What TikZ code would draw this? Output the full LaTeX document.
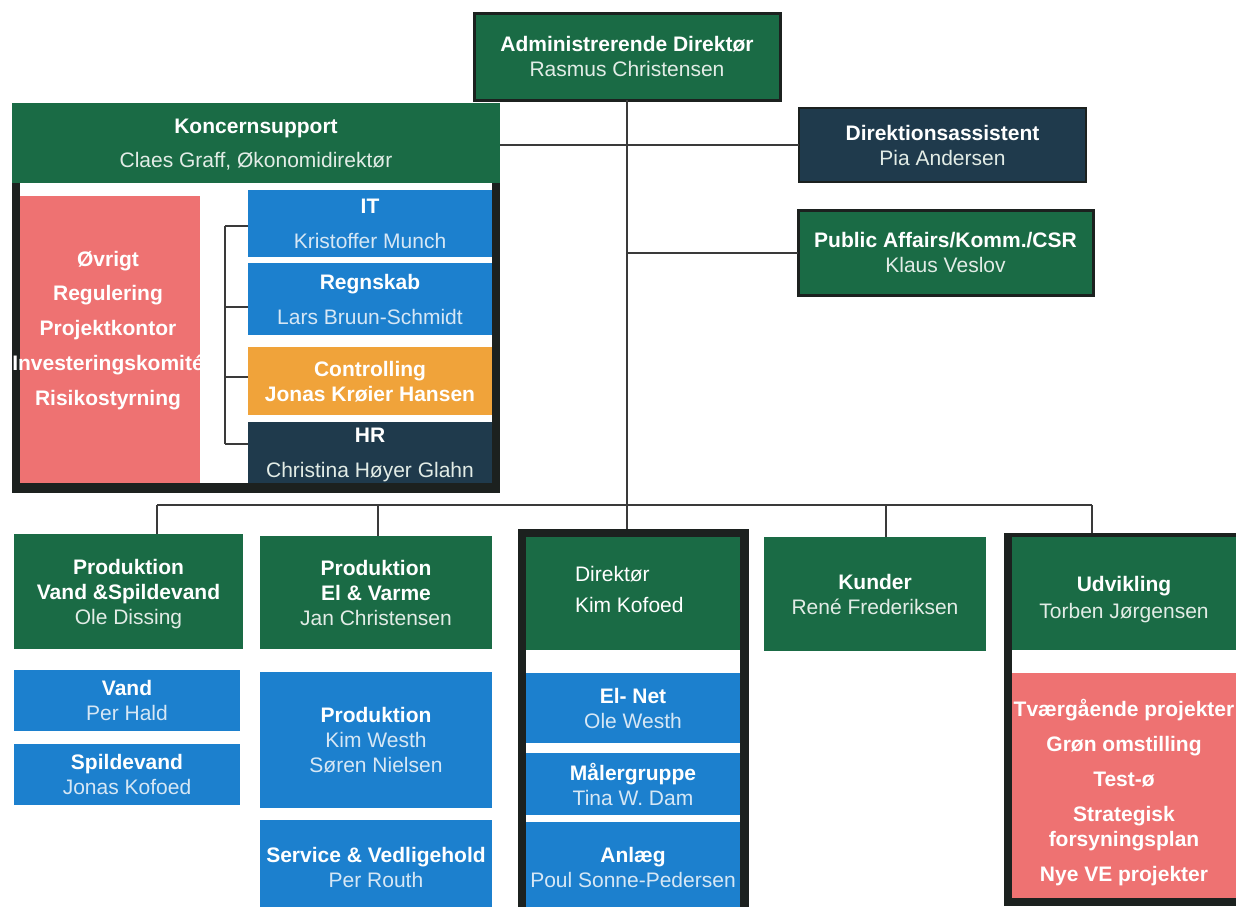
\documentclass[tikz,border=0pt]{standalone}
\usepackage{fontspec}
\setmainfont{Liberation Sans}
\definecolor{gr}{HTML}{1A6B45}
\definecolor{bl}{HTML}{1C80CE}
\definecolor{sa}{HTML}{EE7272}
\definecolor{og}{HTML}{F0A33A}
\definecolor{nv}{HTML}{1F3A4C}
\definecolor{fr}{HTML}{1C211F}
\definecolor{ln}{HTML}{3A3A3A}
\definecolor{nmb}{HTML}{D6E7F5}
\definecolor{nmg}{HTML}{E2ECE6}
\newcommand\nmg[1]{{\mdseries\color{nmg}#1}}
\newcommand\nmb[1]{{\mdseries\color{nmb}#1}}
\tikzset{
  bx/.style={rectangle, inner sep=0pt, outer sep=0pt, text=white, align=center,
    text depth=0pt, font=\bfseries\fontsize{21}{25}\selectfont},
  grbox/.style={bx, fill=gr},
  blbox/.style={bx, fill=bl},
  frame/.style={rectangle, inner sep=0pt, outer sep=0pt, fill=fr},
  wh/.style={rectangle, inner sep=0pt, outer sep=0pt, fill=white},
  conn/.style={draw=ln, line width=2pt},
}
\begin{document}
\begin{tikzpicture}[x=1pt,y=-1pt]
\useasboundingbox (0,0) rectangle (1236,906);
\clip (0,0) rectangle (1236,906);
\fill[white] (0,0) rectangle (1236,906);

% top
\node[grbox, draw=fr, line width=3pt, minimum width=306pt, minimum height=87pt] (admin) at (627,56.5)
  {Administrerende Direktør\\\nmg{Rasmus Christensen}};
\node[bx, fill=nv, draw=fr, line width=2pt, minimum width=287pt, minimum height=74pt] (dira) at (942.5,145)
  {Direktionsassistent\\\nmg{Pia Andersen}};
\node[grbox, draw=fr, line width=3pt, minimum width=295pt, minimum height=85pt] (pa) at (945.5,252.5)
  {Public Affairs/Komm./CSR\\\nmg{Klaus Veslov}};

% Koncernsupport
\node[frame, minimum width=488pt, minimum height=390pt] (ksframe) at (256,298) {};
\node[wh, minimum width=472pt, minimum height=300pt] (ksin) at (256,333) {};
\node[grbox, minimum width=488pt, minimum height=80pt] (kshead) at (256,143)
  {Koncernsupport\\[9pt]\nmg{Claes Graff, Økonomidirektør}};
\node[bx, fill=sa, minimum width=180pt, minimum height=287pt] (ov) at (110,339.5) {};
\node[bx, font=\bfseries\fontsize{21}{34.75}\selectfont] (ovtxt) at (108,328)
  {Øvrigt\\Regulering\\Projektkontor\\Investeringskomité\\Risikostyrning};
\node[blbox, minimum width=244pt, minimum height=67pt] (it) at (370,223.5)
  {IT\\[10pt]\nmb{Kristoffer Munch}};
\node[blbox, minimum width=244pt, minimum height=72pt] (rg) at (370,299)
  {Regnskab\\[10pt]\nmb{Lars Bruun-Schmidt}};
\node[bx, fill=og, minimum width=244pt, minimum height=68pt] (ct) at (370,381)
  {Controlling\\Jonas Krøier Hansen};
\node[bx, fill=nv, minimum width=244pt, minimum height=61pt] (hr) at (370,452.5)
  {HR\\[10pt]\nmg{Christina Høyer Glahn}};

\coordinate (k1) at (225,226);
\coordinate (k2) at (225,307);
\coordinate (k3) at (225,377);
\coordinate (k4) at (225,444);
\draw[conn] (k1) -- (k4);
\draw[conn] (k1) -- (k1 -| it.west);
\draw[conn] (k2) -- (k2 -| rg.west);
\draw[conn] (k3) -- (k3 -| ct.west);
\draw[conn] (k4) -- (k4 -| hr.west);

% bottom row
\node[grbox, minimum width=229pt, minimum height=115pt] (pv) at (128.5,591.5)
  {Produktion\\Vand \&Spildevand\\\nmg{Ole Dissing}};
\node[grbox, minimum width=232pt, minimum height=113pt] (pe) at (376,592.5)
  {Produktion\\El \& Varme\\\nmg{Jan Christensen}};
\node[blbox, minimum width=226pt, minimum height=61pt] (vand) at (127,700.5)
  {Vand\\\nmb{Per Hald}};
\node[blbox, minimum width=226pt, minimum height=61pt] (spv) at (127,774.5)
  {Spildevand\\\nmb{Jonas Kofoed}};
\node[blbox, minimum width=232pt, minimum height=136pt] (prod) at (376,740)
  {Produktion\\\nmb{Kim Westh}\\\nmb{Søren Nielsen}};
\node[blbox, minimum width=232pt, minimum height=95pt] (serv) at (376,867.5)
  {Service \& Vedligehold\\\nmb{Per Routh}};

% Direktør column
\node[frame, minimum width=231pt, minimum height=386pt] (dframe) at (633.5,722) {};
\node[wh, minimum width=214pt, minimum height=378pt] (dwhite) at (633,726) {};
\node[grbox, minimum width=214pt, minimum height=113pt] (dgreen) at (633,593.5) {};
\node[bx, anchor=west, align=left, font=\fontsize{21}{31}\selectfont] (dtxt) at (575,589.5)
  {Direktør\\Kim Kofoed};
\node[blbox, minimum width=214pt, minimum height=70pt] (elnet) at (633,708)
  {El- Net\\\nmb{Ole Westh}};
\node[blbox, minimum width=214pt, minimum height=62pt] (maal) at (633,784)
  {Målergruppe\\\nmb{Tina W. Dam}};
\node[blbox, minimum width=214pt, minimum height=91pt] (anl) at (633,867.5)
  {Anlæg\\\nmb{Poul Sonne-Pedersen}};

% Kunder
\node[grbox, minimum width=222pt, minimum height=114pt] (kund) at (875,594)
  {Kunder\\\nmg{René Frederiksen}};

% Udvikling
\node[frame, minimum width=240pt, minimum height=373pt] (uframe) at (1124,719.5) {};
\node[wh, minimum width=224pt, minimum height=357pt] (uwhite) at (1124,719.5) {};
\node[grbox, minimum width=224pt, minimum height=113pt] (ugreen) at (1124,593.5) {};
\node[bx] (ugtxt) at (1124,597)
  {Udvikling\\[2pt]\nmg{Torben Jørgensen}};
\node[bx, fill=sa, minimum width=224pt, minimum height=225pt] (usal) at (1124,785.5) {};
\node[bx] (usaltxt) at (1124,790.5)
  {Tværgående projekter\\[10pt]Grøn omstilling\\[10pt]Test-ø\\[10pt]Strategisk\\forsyningsplan\\[10pt]Nye VE projekter};

% connectors
\draw[conn] (admin.south) -- (admin.south |- dframe.north);
\draw[conn] (dira.west) -- (dira.west -| ksframe.east);
\draw[conn] (pa.west) -- (pa.west -| admin.south);
\coordinate (b1) at (157,505);
\coordinate (b2) at (378,505);
\coordinate (b4) at (886,505);
\coordinate (b5) at (1092,505);
\draw[conn] (b1) -- (b5);
\draw[conn] (b1) -- (b1 |- pv.north);
\draw[conn] (b2) -- (b2 |- pe.north);
\draw[conn] (b4) -- (b4 |- kund.north);
\draw[conn] (b5) -- (b5 |- uframe.north);
\end{tikzpicture}
\end{document}
